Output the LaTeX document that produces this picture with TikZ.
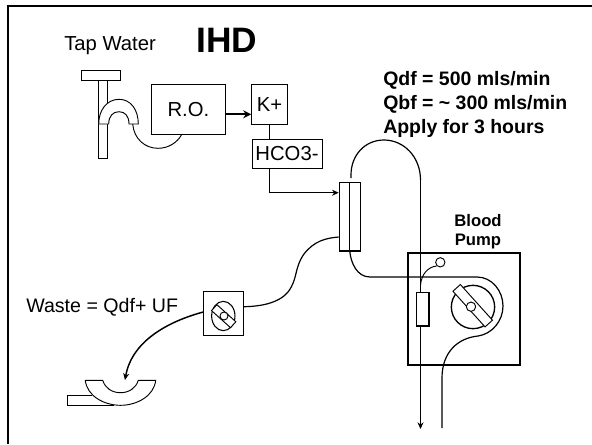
\documentclass[tikz,border=0pt]{standalone}
\usepackage{fontspec}
\setmainfont{Liberation Sans}
\usetikzlibrary{arrows.meta,shapes.geometric}
\tikzset{
  box/.style={draw,line width=0.7pt,inner sep=0pt},
  textlabel/.style={inner sep=0.75pt,font=\fontsize{15.2}{16}\selectfont},
  boxlabel/.style={box,font=\fontsize{15.2}{16}\selectfont},
  boldlabel/.style={inner sep=0.75pt,font=\fontsize{14.6}{18}\selectfont\bfseries,align=left},
  tube/.style={line width=0.7pt},
  flow/.style={line width=0.9pt,-{Stealth[length=5pt,width=4.5pt]}}
}
\begin{document}
\begin{tikzpicture}[x=0.75pt,y=0.75pt,yscale=-1,xscale=1]
\useasboundingbox (0,0) rectangle (592,444);
%frame
\draw [line width=1.6pt] (8,444) -- (8,6) -- (592,6);

% Text Node
\node (tap) [textlabel,anchor=west] at (63,46) {Tap Water};
\node (ihd) [anchor=west,inner sep=0.75pt,font=\fontsize{26.5}{30}\selectfont\bfseries] at (195,40) {IHD};
\node (rates) [boldlabel,anchor=west] at (382,104) {Qdf = 500 mls/min\\Qbf = \textasciitilde{} 300 mls/min\\Apply for 3 hours};
\node (pumplabel) [inner sep=0.75pt,font=\fontsize{12.5}{14.5}\selectfont\bfseries,align=center] at (478,231.5) {Blood\\Pump};
\node (waste) [textlabel,font=\fontsize{14.7}{16}\selectfont,anchor=west] at (25,307) {Waste = Qdf+ UF};

%Boxes
\node (ro) [boxlabel,minimum width=56pt,minimum height=37pt] at (188.4,109.4) {R.O.};
\node (kplus) [boxlabel,minimum width=26.7pt,minimum height=29.5pt] at (269.5,104.3) {K+};
\node (hco) [boxlabel,minimum width=52.5pt,minimum height=22.3pt] at (287,154) {HCO3-};
\node (dialyser) [box,line width=0.9pt,minimum width=15.75pt,minimum height=51.2pt] at (349.8,216.9) {};
\node (pump) [box,line width=0.9pt,minimum width=84pt,minimum height=84pt] at (464,309) {};
\node (wastepump) [box,minimum width=29.7pt,minimum height=33.2pt] at (223.5,313.8) {};

%Tap
\draw [tube] (81,70) rectangle (120.7,80);
\draw [tube] (98.7,80) rectangle (107.3,158.7);
\draw [tube,fill=white] (98.7,124) .. controls (98.7,110) and (107,99.3) .. (119,99.3) .. controls (131,99.3) and (138.3,110) .. (138.3,124) -- (129,124) .. controls (129,116) and (125,111.7) .. (119,111.7) .. controls (113,111.7) and (108.7,116) .. (108.7,124) -- cycle;
\coordinate (trap) at (132.7,124);
\draw [tube] (trap) .. controls (134,139) and (145,148.3) .. (158,148.3) .. controls (168,148.3) and (177,143) .. (181.7,134.5);

%Water line
\draw [line width=1.5pt,-{Stealth[length=6pt,width=6pt]}] (ro.east |- 0,114.3) -- (kplus.west |- 0,114.3);
\draw [tube] (269.3,124) -- (269.3,139);
\draw [flow] (269.3,168.7) |- (dialyser.west |- 0,192.7);

%Dialyser
\draw [tube] (dialyser.north) -- (dialyser.south);
\coordinate (looptop) at (420.5,180);
\draw [flow,-] (351,178) -- (351,175) .. controls (351,155) and (365,140) .. (384,140) .. controls (404,140) and (420.5,157) .. (looptop);

%Blood pump
\draw [flow,-] (dialyser.south) .. controls (351,263) and (357,277) .. (370,277) -- (477,277) .. controls (492,277) and (503,291) .. (503,306) .. controls (503,321) and (492,334) .. (478,336) .. controls (458,338) and (442,352) .. (442,378) -- (442,428);
\draw [flow] (looptop) -- (420.5,429);
\node (filter) [box,fill=white,line width=0.9pt,minimum width=9.25pt,minimum height=25.3pt] at (422.8,309.2) {};
\draw [tube] (420.5,285) .. controls (421.5,274) and (428,267) .. (436.5,266);
\node (clamp) [draw,circle,line width=0.7pt,fill=white,minimum size=7pt,inner sep=0pt] at (440.3,262.3) {};

%Rotor
\node (rotor) [draw,circle,line width=1pt,minimum size=32.5pt,inner sep=0pt] at (473,307) {};
\draw [tube,fill=white,rotate around={48:(472.7,305.7)}] (448.7,300.7) rectangle (496.7,310.7);
\node (hub) [draw,circle,line width=0.7pt,fill=white,minimum size=7pt,inner sep=0pt] at (471,306.7) {};

%Waste
\draw [flow,-] (wastepump.east |- 0,306.7) .. controls (258,306.5) and (278,304) .. (288,292) .. controls (298,279) and (294,268) .. (304,254) .. controls (314,241) and (326,238) .. (dialyser.west |- 0,237);
\draw [flow,line width=1.1pt] (wastepump.west |- 0,312) .. controls (170,321) and (132,340) .. (125,380);
\node (rotorb) [draw,ellipse,line width=0.8pt,minimum width=17.5pt,minimum height=22pt,inner sep=0pt] at (223.3,316) {};
\draw [tube,fill=white,rotate around={42:(223.5,316)}] (211,312) rectangle (236.5,320);
\node (hubb) [draw,circle,line width=0.7pt,fill=white,minimum size=6pt,inner sep=0pt] at (224,316) {};

%Basin
\draw [tube] (92,395.3) -- (67.3,395.3) -- (67.3,405.3) -- (114,405.3);
\draw [tube,fill=white] (85.3,380.3) .. controls (87,396) and (104,405.3) .. (120.5,405.3) .. controls (137,405.3) and (154,396) .. (155.7,380.3) -- (138.3,380.3) .. controls (136,388) and (129,392.7) .. (120.5,392.7) .. controls (112,392.7) and (105,388) .. (102.7,380.3) -- cycle;
\end{tikzpicture}
\end{document}
